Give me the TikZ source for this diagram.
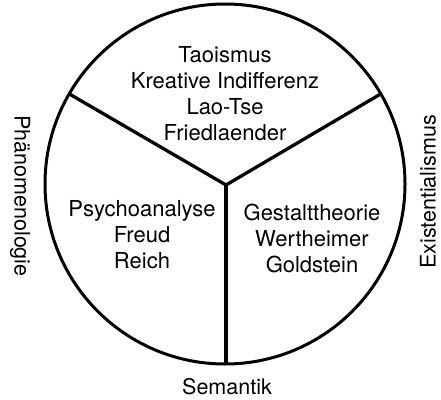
\documentclass[tikz,border=0pt]{standalone}
\usepackage{fontspec}
\setmainfont{TeX Gyre Heros}
\begin{document}
\begin{tikzpicture}[x=1pt,y=-1pt,
  lbl/.style={align=center,font=\fontsize{22}{26}\selectfont,inner sep=0pt},
  side/.style={font=\fontsize{21.5}{26}\selectfont,inner sep=0pt},
  rim/.style={line width=3pt},
  spoke/.style={line width=3.3pt}]
\useasboundingbox (0,0) rectangle (441,399);
\coordinate (M) at (225,184);
\draw[rim] (M) circle[radius=180];
\coordinate (J) at (226,185);
\coordinate (A) at (69.4,94);
\coordinate (B) at (380.6,94);
\coordinate (C) at (226,364);
\draw[spoke] (A) -- (J) -- (B);
\draw[spoke] (J) -- (C);
\node[lbl] (top) at (225,94) {Taoismus\\Kreative Indifferenz\\Lao-Tse\\Friedlaender};
\node[lbl] (left) at (142,235) {Psychoanalyse\\Freud\\Reich};
\node[lbl] (right) at (312,238) {Gestalttheorie\\Wertheimer\\Goldstein};
\node[side] (sem) at (227,387) {Semantik};
\node[side,rotate=-90] (phae) at (20,196) {Phänomenologie};
\node[side,rotate=90] (exi) at (428,192) {Existentialismus};
\end{tikzpicture}
\end{document}
